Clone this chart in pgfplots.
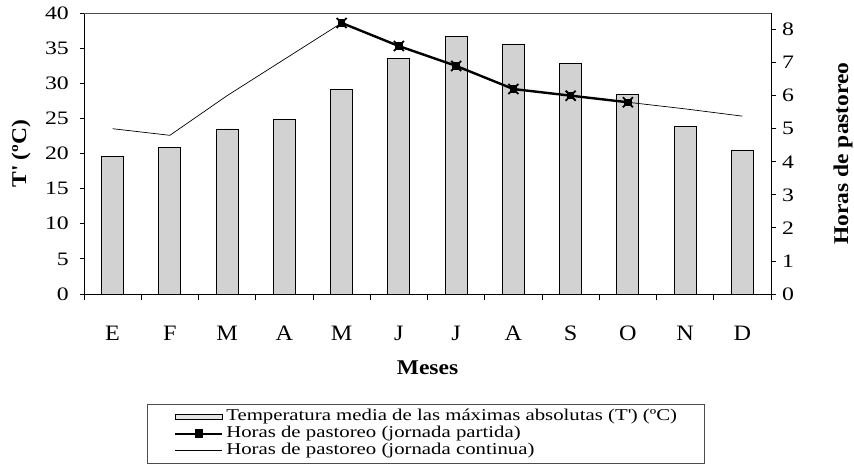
\documentclass[border=0pt]{standalone}
\usepackage{pgfplots}
\pgfplotsset{compat=1.18}
\usepackage{fontspec}
\setmainfont{Liberation Serif}[FakeStretch=1.2]
\newfontfamily\ytfont{Liberation Serif}[FakeStretch=1.25]
\newfontfamily\xtfont{Liberation Serif}[FakeStretch=1.1]
\newfontfamily\labfont{Liberation Serif}[FakeStretch=1.12]
\newfontfamily\legfont{Liberation Serif}[FakeStretch=1.26]
\definecolor{barfill}{RGB}{210,210,210}
\pgfdeclareplotmark{sqx}{%
  \pgfpathrectangle{\pgfpoint{-0.55\pgfplotmarksize}{-0.55\pgfplotmarksize}}{\pgfpoint{1.1\pgfplotmarksize}{1.1\pgfplotmarksize}}%
  \pgfusepathqfillstroke
  \pgfpathmoveto{\pgfpoint{-\pgfplotmarksize}{-\pgfplotmarksize}}\pgfpathlineto{\pgfpoint{\pgfplotmarksize}{\pgfplotmarksize}}%
  \pgfpathmoveto{\pgfpoint{-\pgfplotmarksize}{\pgfplotmarksize}}\pgfpathlineto{\pgfpoint{\pgfplotmarksize}{-\pgfplotmarksize}}%
  \pgfusepathqstroke}
\pgfplotstableread{
x T
0 19.6
1 20.9
2 23.5
3 24.8
4 29.1
5 33.5
6 36.6
7 35.6
8 32.8
9 28.4
10 23.9
11 20.5
}\temp
\pgfplotstableread{
x h
0 5.0
1 4.8
2 6.0
3 7.1
4 8.2
5 7.5
6 6.9
7 6.2
8 6.0
9 5.8
10 5.6
11 5.38
}\continua
\pgfplotstableread{
x h
4 8.2
5 7.5
6 6.9
7 6.2
8 6.0
9 5.8
}\partida
\begin{document}
\begin{tikzpicture}[x=1pt,y=1pt]
\path[use as bounding box] (0,0) rectangle (854,472);
\begin{axis}[
  at={(84pt,178pt)}, anchor=south west,
  width=687pt, height=281pt, scale only axis,
  xmin=-0.5, xmax=11.5, ymin=0, ymax=40,
  /pgf/number format/assume math mode=true,
  xtick={0,...,11},
  xticklabels={E,F,M,A,M,J,J,A,S,O,N,D},
  minor xtick={-0.5,0.5,...,11.5},
  major x tick style={draw=none},
  minor tick length=6pt,
  ytick={0,5,...,40},
  major tick length=4pt,
  tick align=outside,
  axis y line*=left,
  axis x line*=bottom,
  axis line style={line width=0.8pt},
  every tick/.style={black, line width=0.8pt},
  xticklabel style={font=\xtfont\fontsize{22}{24}\selectfont, anchor=base, yshift=-42pt},
  yticklabel style={font=\ytfont\fontsize{19}{22}\selectfont, anchor=east, inner sep=0pt, xshift=-11pt},
  xlabel={\textbf{Meses}},
  every axis x label/.style={at={(axis description cs:0.5,0)}, anchor=base, yshift=-80pt, font=\labfont\fontsize{21}{24}\selectfont},
  ylabel={\textbf{T\textquotesingle{} (ºC)}},
  every axis y label/.style={at={(axis description cs:-0.0917,0.5)}, rotate=90, anchor=center, font=\labfont\fontsize{21}{24}\selectfont},
]
\addplot[ybar, bar width=22pt, fill=barfill, draw=black, line width=0.8pt] table[x=x,y=T] {\temp};
\draw[line width=0.5pt, black!70] (rel axis cs:0,1) -- (rel axis cs:1,1);
\end{axis}
\begin{axis}[
  at={(84pt,178pt)}, anchor=south west,
  width=687pt, height=281pt, scale only axis,
  xmin=-0.5, xmax=11.5, ymin=0, ymax=8.5,
  /pgf/number format/assume math mode=true,
  axis x line=none,
  axis y line*=right,
  ytick={0,...,8},
  major tick length=5pt,
  tick align=outside,
  axis line style={line width=0.8pt},
  every tick/.style={black, line width=0.8pt},
  yticklabel style={font=\ytfont\fontsize{19}{22}\selectfont, anchor=west, inner sep=0pt, xshift=6pt},
  ylabel={\textbf{Horas de pastoreo}},
  every axis y label/.style={at={(axis description cs:1.1048,0.5)}, rotate=90, anchor=center, font=\labfont\fontsize{21}{24}\selectfont},
  legend style={at={(axis description cs:0.0917,-0.39)}, anchor=north west,
    draw=black!70, line width=0.5pt, font=\legfont\fontsize{16.5}{17}\selectfont,
    inner xsep=27pt, inner ysep=4.5pt, row sep=0.5pt,
    nodes={inner sep=0pt, text height=12pt, text depth=4.5pt},
    legend cell align=left},
  legend image code/.code={\draw[#1] (0pt,0pt) -- (47pt,0pt);},
]
\addlegendimage{legend image code/.code={\draw[fill=barfill!60, draw=black, line width=0.6pt] (0pt,-2.5pt) rectangle (47pt,2.5pt);}}
\addlegendentry{\hspace{3pt}Temperatura media de las máximas absolutas (T\textquotesingle) (ºC)}
\addlegendimage{legend image code/.code={\draw[black, line width=2pt] (0pt,0pt) -- (47pt,0pt); \draw[black, line width=1.5pt, fill=black] (20pt,-3.5pt) rectangle (27pt,3.5pt);}}
\addlegendentry{\hspace{3pt}Horas de pastoreo (jornada partida)}
\addlegendimage{legend image code/.code={\draw[black, line width=0.6pt] (0pt,0pt) -- (47pt,0pt);}}
\addlegendentry{\hspace{3pt}Horas de pastoreo (jornada continua)}
\addplot[black, line width=0.7pt, forget plot] table[x=x,y=h] {\continua};
\addplot[black, line width=2.4pt, mark=sqx, mark size=5pt, mark options={line width=1.8pt, fill=black}, forget plot] table[x=x,y=h] {\partida};
\end{axis}
\end{tikzpicture}
\end{document}
